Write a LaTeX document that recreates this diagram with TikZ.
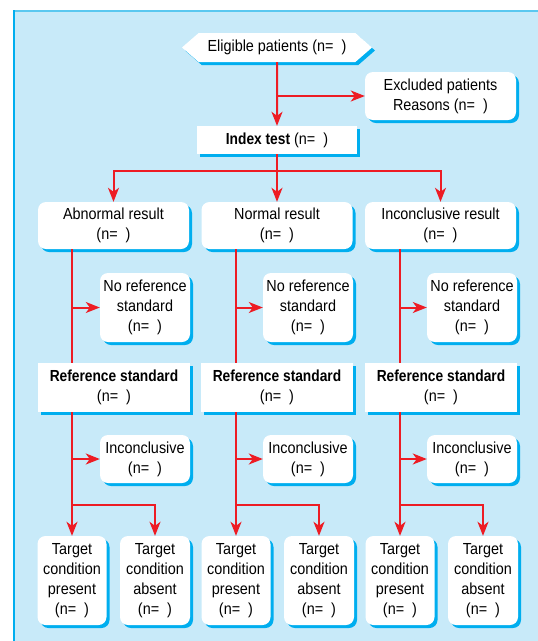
\documentclass[tikz,border=0pt]{standalone}
\usepackage{fontspec}
\setmainfont{Liberation Sans}[FakeStretch=0.9,BoldFeatures={FakeStretch=0.86}]
\usepackage{tikz}
\usetikzlibrary{arrows.meta, shadows, shapes.symbols}

\definecolor{panelblue}{RGB}{200,234,249}
\definecolor{shadowblue}{RGB}{0,174,239}
\definecolor{topblue}{RGB}{90,200,240}
\definecolor{linered}{RGB}{237,28,36}

\newcommand{\ncount}{(n=\hspace{0.5em})}

\tikzset{
  box/.style={fill=white, rounded corners=8pt, align=center, inner sep=0pt,
    font=\fontsize{16}{20}\selectfont,
    drop shadow={shadow xshift=3pt, shadow yshift=-3pt, fill=shadowblue, opacity=1}},
  sqbox/.style={box, rounded corners=0pt},
  ln/.style={draw=linered, line width=2pt},
  arr/.style={ln, -{Stealth[length=14pt,width=11pt,inset=4pt]}},
}

\begin{document}
\begin{tikzpicture}[x=1pt,y=-1pt]
\useasboundingbox (0,0) rectangle (538,641);
\fill[panelblue] (13,10) rectangle (538,641);
\draw[topblue, line width=1.5pt] (13,10.75) -- (538,10.75);
\draw[shadowblue, line width=1.5pt] (13.75,10) -- (13.75,641);

% top part
\node[box, rounded corners=0pt, shape=signal, signal to=west and east, signal pointer angle=82,
  minimum width=190pt, minimum height=29pt] (elig) at (277,47.5) {Eligible patients \ncount};
\node[box, minimum width=151pt, minimum height=48pt] (excl) at (440.5,96) {Excluded patients\\Reasons \ncount};
\node[sqbox, minimum width=160pt, minimum height=28pt] (idx) at (277,140) {\textbf{Index test} \ncount};

% index test results
\node[box, minimum width=151pt, minimum height=47pt] (res1) at (113.5,225.5) {Abnormal result\\\ncount};
\node[box, minimum width=151pt, minimum height=47pt] (res2) at (277,225.5) {Normal result\\\ncount};
\node[box, minimum width=151pt, minimum height=47pt] (res3) at (440.5,225.5) {Inconclusive result\\\ncount};

\node[box, minimum width=90pt, minimum height=69pt] (nor1) at (145,307.5) {No reference\\standard\\\ncount};
\node[box, minimum width=90pt, minimum height=69pt] (nor2) at (308,307.5) {No reference\\standard\\\ncount};
\node[box, minimum width=90pt, minimum height=69pt] (nor3) at (472,307.5) {No reference\\standard\\\ncount};

\node[sqbox, minimum width=152pt, minimum height=49pt] (ref1) at (114,387.5) {\textbf{Reference standard}\\\ncount};
\node[sqbox, minimum width=152pt, minimum height=49pt] (ref2) at (277,387.5) {\textbf{Reference standard}\\\ncount};
\node[sqbox, minimum width=152pt, minimum height=49pt] (ref3) at (441,387.5) {\textbf{Reference standard}\\\ncount};

\node[box, minimum width=90pt, minimum height=48pt] (inc1) at (145,459) {Inconclusive\\\ncount};
\node[box, minimum width=90pt, minimum height=48pt] (inc2) at (308,459) {Inconclusive\\\ncount};
\node[box, minimum width=90pt, minimum height=48pt] (inc3) at (472,459) {Inconclusive\\\ncount};

% target condition
\node[box, minimum width=69pt, minimum height=89pt] (tp1) at (72,580.5) {Target\\condition\\present\\\ncount};
\node[box, minimum width=70pt, minimum height=89pt] (ta1) at (155,580.5) {Target\\condition\\absent\\\ncount};
\node[box, minimum width=69pt, minimum height=89pt] (tp2) at (236,580.5) {Target\\condition\\present\\\ncount};
\node[box, minimum width=70pt, minimum height=89pt] (ta2) at (319,580.5) {Target\\condition\\absent\\\ncount};
\node[box, minimum width=69pt, minimum height=89pt] (tp3) at (400,580.5) {Target\\condition\\present\\\ncount};
\node[box, minimum width=70pt, minimum height=89pt] (ta3) at (483,580.5) {Target\\condition\\absent\\\ncount};

\coordinate (split) at (277,171);
\coordinate (s1) at (72,505);
\coordinate (s2) at (236,505);
\coordinate (s3) at (400,505);

% connectors
\draw[arr] (elig) -- (idx);
\draw[arr] (elig.south |- excl.west) -- (excl.west);
\draw[ln] (idx) -- (split);
\draw[arr] (split) -| (res1);
\draw[arr] (split) -- (res2);
\draw[arr] (split) -| (res3);

\draw[ln] (res1.south -| tp1) -- (ref1.north -| tp1);
\draw[arr] (tp1 |- nor1) -- (nor1.west);
\draw[ln] (ref1.south -| tp1) -- (s1);
\draw[arr] (tp1 |- inc1) -- (inc1.west);
\draw[arr] (s1) -- (tp1);
\draw[arr] (s1) -| (ta1);

\draw[ln] (res2.south -| tp2) -- (ref2.north -| tp2);
\draw[arr] (tp2 |- nor2) -- (nor2.west);
\draw[ln] (ref2.south -| tp2) -- (s2);
\draw[arr] (tp2 |- inc2) -- (inc2.west);
\draw[arr] (s2) -- (tp2);
\draw[arr] (s2) -| (ta2);

\draw[ln] (res3.south -| tp3) -- (ref3.north -| tp3);
\draw[arr] (tp3 |- nor3) -- (nor3.west);
\draw[ln] (ref3.south -| tp3) -- (s3);
\draw[arr] (tp3 |- inc3) -- (inc3.west);
\draw[arr] (s3) -- (tp3);
\draw[arr] (s3) -| (ta3);
\end{tikzpicture}
\end{document}
